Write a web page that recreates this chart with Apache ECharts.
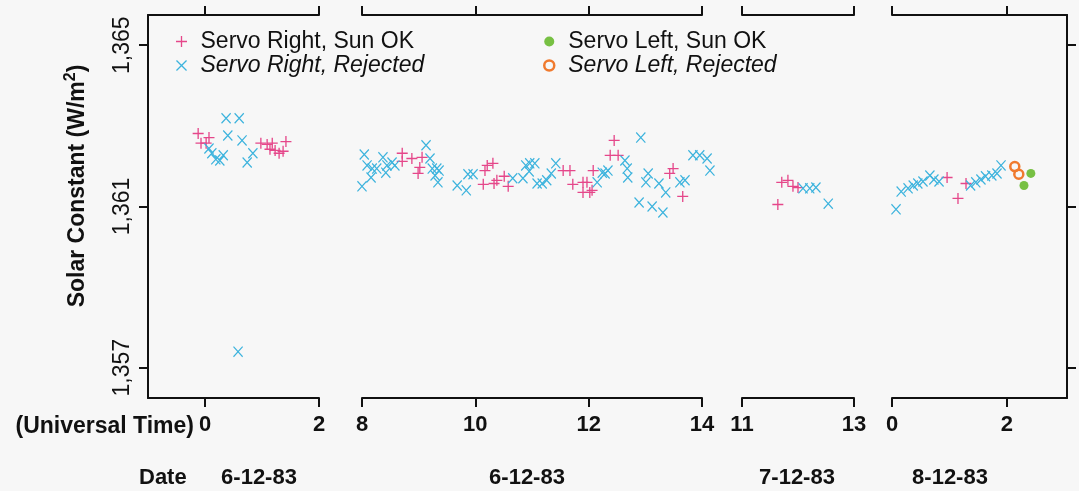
<!DOCTYPE html>
<html>
<head>
<meta charset="utf-8">
<script src="https://cdn.jsdelivr.net/npm/echarts@6/dist/echarts.min.js"></script>
<style>
  html, body { margin: 0; padding: 0; background: #f7f7f7; }
  #chart { width: 1079px; height: 491px; }
</style>
</head>
<body>
<div id="chart"></div>
<script>
// tick labels
const yTicks = [1357, 1361, 1365];
const xTicks1 = [0, 2];
const xTicks2 = [8, 10, 12, 14];
const xTicks3 = [11, 13];
const xTicks4 = [0, 2];
const dateLabels = ['6-12-83', '6-12-83', '7-12-83', '8-12-83'];

// Servo Right, Sun OK  [universal time, W/m2]
const sunOk1 = [[-0.12, 1362.81], [0.07, 1362.71], [-0.07, 1362.57], [0.02, 1362.57], [0.98, 1362.57], [1.09, 1362.54],
  [1.18, 1362.57], [1.42, 1362.61], [1.23, 1362.39], [1.30, 1362.32], [1.37, 1362.37], [1.14, 1362.42]];
const sunOk2 = [[8.71, 1362.32], [8.71, 1362.12], [8.88, 1362.19], [9.06, 1362.22], [9.02, 1361.97], [8.99, 1361.82],
  [10.21, 1362.02], [10.31, 1362.07], [10.17, 1361.89], [10.14, 1361.55], [10.33, 1361.57], [10.38, 1361.65],
  [10.51, 1361.75], [10.58, 1361.50], [11.55, 1361.89], [11.67, 1361.89], [11.72, 1361.55], [11.90, 1361.60],
  [11.97, 1361.60], [11.90, 1361.35], [12.02, 1361.35], [12.08, 1361.89], [12.06, 1361.40], [12.45, 1362.64],
  [12.38, 1362.27], [12.52, 1362.27], [13.49, 1361.94], [13.43, 1361.82], [13.66, 1361.25]];
const sunOk3 = [[11.71, 1361.60], [11.82, 1361.65], [11.91, 1361.50], [12.00, 1361.47], [11.64, 1361.05]];
const sunOk4 = [[0.96, 1361.72], [1.15, 1361.20], [1.29, 1361.57]];

// Servo Right, Rejected
const rejected1 = [[0.37, 1363.19], [0.60, 1363.19], [0.40, 1362.76], [0.65, 1362.64], [0.07, 1362.44], [0.12, 1362.32],
  [0.19, 1362.17], [0.26, 1362.14], [0.32, 1362.27], [0.74, 1362.09], [0.84, 1362.32], [0.58, 1357.40]];
const rejected2 = [[8.04, 1362.29], [8.09, 1362.02], [8.18, 1361.94], [8.26, 1361.94], [8.16, 1361.72], [8.00, 1361.50],
  [8.37, 1362.22], [8.44, 1362.02], [8.53, 1362.09], [8.58, 1362.02], [8.42, 1361.84], [9.13, 1362.52],
  [9.20, 1362.19], [9.24, 1361.94], [9.32, 1361.94], [9.29, 1361.77], [9.36, 1361.89], [9.34, 1361.60],
  [9.68, 1361.52], [9.84, 1361.40], [9.87, 1361.80], [9.96, 1361.80], [10.66, 1361.70], [10.84, 1361.70],
  [10.89, 1362.02], [10.96, 1362.07], [11.05, 1362.07], [10.95, 1361.87], [11.09, 1361.57], [11.18, 1361.57],
  [11.26, 1361.65], [11.34, 1361.82], [11.42, 1362.07], [12.15, 1361.60], [12.24, 1361.84], [12.29, 1361.82],
  [12.34, 1361.89], [12.64, 1362.14], [12.68, 1361.94], [12.69, 1361.72], [12.92, 1362.71], [12.89, 1361.10],
  [13.12, 1361.00], [13.31, 1360.85], [13.01, 1361.60], [13.05, 1361.82], [13.24, 1361.57], [13.36, 1361.35],
  [13.61, 1361.60], [13.70, 1361.65], [13.84, 1362.27], [13.96, 1362.27], [14.09, 1362.19], [14.14, 1361.89]];
const rejected3 = [[12.09, 1361.45], [12.21, 1361.45], [12.32, 1361.47], [12.54, 1361.07]];
const rejected4 = [[0.07, 1360.93], [0.16, 1361.37], [0.28, 1361.45], [0.37, 1361.52], [0.45, 1361.57], [0.54, 1361.62],
  [0.66, 1361.77], [0.73, 1361.67], [0.82, 1361.62], [1.37, 1361.52], [1.46, 1361.60], [1.55, 1361.67],
  [1.63, 1361.75], [1.74, 1361.77], [1.83, 1361.82], [1.90, 1362.02]];

// Servo Left (8-12-83 only)
const leftSunOk = [[2.42, 1361.82], [2.30, 1361.52]];
const leftRejected = [[2.14, 1361.99], [2.21, 1361.80]];

const FONT = '"Liberation Sans", Arial, Helvetica, sans-serif';
const INK = '#111';
const PLUS = 'path://M0,4.4H4.4V0H5.6V4.4H10V5.6H5.6V10H4.4V5.6H0Z';
const CROSS = 'path://M0,0.85L0.85,0L10,9.15L9.15,10ZM9.15,0L10,0.85L0.85,10L0,9.15Z';
const PINK = '#e5478a';
const CYAN = '#3cb3dd';
const GREEN = '#77c043';
const ORANGE = '#f07a2e';

const panels = [
  { left: 148, width: 171, min: -1, max: 2, ticks: xTicks1 },
  { left: 362, width: 340, min: 8, max: 14, ticks: xTicks2 },
  { left: 742, width: 112, min: 11, max: 13, ticks: xTicks3 },
  { left: 892, width: 175, min: 0, max: 3.05, ticks: xTicks4 }
];

const chart = echarts.init(document.getElementById('chart'));

const lineStyle = { color: INK, width: 2 };
const grid = panels.map(p => ({ left: p.left, width: p.width, top: 15, height: 383 }));

const xAxis = [];
panels.forEach((p, i) => {
  ['bottom', 'top'].forEach(pos => {
    xAxis.push({
      gridIndex: i,
      type: 'value',
      position: pos,
      min: p.min,
      max: p.max,
      axisLine: { onZero: false, lineStyle: lineStyle },
      axisTick: { customValues: p.ticks, length: 9, lineStyle: lineStyle },
      axisLabel: {
        show: pos === 'bottom',
        customValues: p.ticks,
        margin: 16,
        color: INK,
        fontSize: 22,
        fontWeight: 'bold',
        fontFamily: FONT
      },
      splitLine: { show: false }
    });
  });
});

const yAxis = panels.map((p, i) => ({
  gridIndex: i,
  type: 'value',
  min: 1356.25,
  max: 1365.75,
  show: i === 0 || i === 3,
  position: i === 3 ? 'right' : 'left',
  axisLine: { onZero: false, lineStyle: lineStyle },
  axisTick: { customValues: yTicks, length: 9, lineStyle: lineStyle },
  axisLabel: {
    show: i === 0,
    customValues: yTicks,
    rotate: 90,
    margin: 14,
    color: INK,
    fontSize: 23,
    fontFamily: FONT,
    formatter: v => v.toLocaleString('en-US')
  },
  splitLine: { show: false }
}));

const sunOkData = [sunOk1, sunOk2, sunOk3, sunOk4];
const rejectedData = [rejected1, rejected2, rejected3, rejected4];

const series = [];
panels.forEach((p, i) => {
  series.push({
    name: 'Servo Right, Sun OK',
    type: 'scatter',
    xAxisIndex: i * 2,
    yAxisIndex: i,
    data: sunOkData[i],
    symbol: PLUS,
    symbolSize: 11,
    clip: false,
    itemStyle: { color: PINK, opacity: 1 }
  });
  series.push({
    name: 'Servo Right, Rejected',
    type: 'scatter',
    xAxisIndex: i * 2,
    yAxisIndex: i,
    data: rejectedData[i],
    symbol: CROSS,
    symbolSize: [10, 11],
    clip: false,
    itemStyle: { color: CYAN, opacity: 1 }
  });
});
series.push({
  name: 'Servo Left, Sun OK',
  type: 'scatter',
  xAxisIndex: 6,
  yAxisIndex: 3,
  data: leftSunOk,
  symbol: 'circle',
  symbolSize: 9,
  clip: false,
  itemStyle: { color: GREEN, opacity: 1 }
});
series.push({
  name: 'Servo Left, Rejected',
  type: 'scatter',
  xAxisIndex: 6,
  yAxisIndex: 3,
  data: leftRejected,
  symbol: 'circle',
  symbolSize: 9,
  clip: false,
  itemStyle: { color: 'rgba(0,0,0,0)', borderColor: ORANGE, borderWidth: 2.5, opacity: 1 }
});

const legendText = { fontSize: 23, color: INK, fontFamily: FONT, padding: [0, 0, 0, 4] };

const option = {
  animation: false,
  backgroundColor: '#f7f7f7',
  grid: grid,
  xAxis: xAxis,
  yAxis: yAxis,
  legend: [
    {
      left: 171,
      top: 25,
      orient: 'vertical',
      itemGap: 1,
      itemWidth: 20,
      itemHeight: 11,
      selectedMode: false,
      textStyle: legendText,
      data: [
        { name: 'Servo Right, Sun OK', icon: PLUS },
        { name: 'Servo Right, Rejected', icon: CROSS, textStyle: { fontStyle: 'italic' } }
      ]
    },
    {
      left: 538,
      top: 25,
      orient: 'vertical',
      itemGap: 1,
      itemWidth: 20,
      itemHeight: 10,
      selectedMode: false,
      textStyle: legendText,
      data: [
        { name: 'Servo Left, Sun OK', icon: 'circle' },
        { name: 'Servo Left, Rejected', icon: 'circle', itemStyle: { borderWidth: 2.5 }, textStyle: { fontStyle: 'italic' } }
      ]
    }
  ],
  graphic: [
    {
      type: 'text',
      x: 76,
      y: 186,
      rotation: Math.PI / 2,
      style: {
        text: '{a|Solar Constant (W/m}{s|2}{a|)}',
        align: 'center',
        verticalAlign: 'middle',
        fill: INK,
        rich: {
          a: { fontSize: 23, fontWeight: 'bold', fontFamily: FONT, fill: INK, lineHeight: 27, verticalAlign: 'bottom' },
          s: { fontSize: 16, fontWeight: 'bold', fontFamily: FONT, fill: INK, lineHeight: 27, verticalAlign: 'top' }
        }
      }
    },
    {
      type: 'text',
      x: 194,
      y: 427,
      style: { text: '(Universal Time)', align: 'right', verticalAlign: 'middle', fill: INK,
        font: 'bold 23px ' + FONT }
    },
    {
      type: 'text',
      x: 139,
      y: 478,
      style: { text: 'Date', align: 'left', verticalAlign: 'middle', fill: INK, font: 'bold 22px ' + FONT }
    }
  ].concat([259, 527, 797, 950].map((x, i) => ({
    type: 'text',
    x: x,
    y: 478,
    style: { text: dateLabels[i], align: 'center', verticalAlign: 'middle', fill: INK, font: 'bold 22px ' + FONT }
  }))),
  series: series
};

chart.setOption(option);
</script>
</body>
</html>
